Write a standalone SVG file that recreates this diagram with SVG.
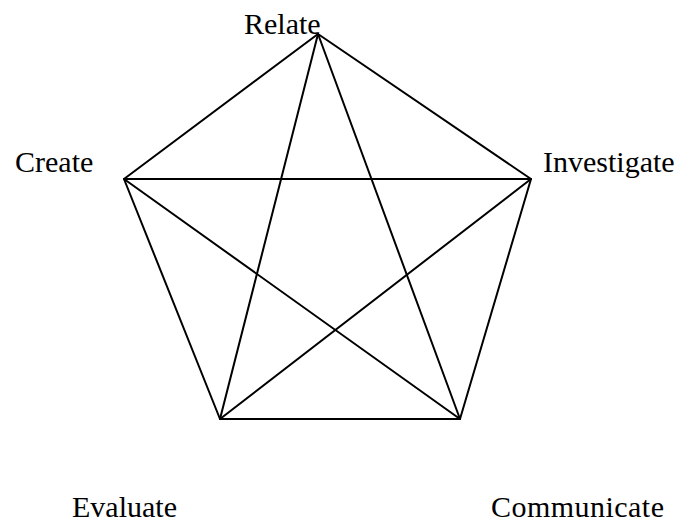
<svg xmlns="http://www.w3.org/2000/svg" width="683" height="522" viewBox="0 0 683 522">
<style>
.lbl{font-family:"Liberation Serif","Times New Roman",serif;font-size:30px;fill:#000}
.ln{stroke:#000;stroke-width:2;fill:none;stroke-linecap:round;stroke-linejoin:round}
</style>
<rect width="683" height="522" fill="#fff"/>
<g id="connectors" class="ln">
<path d="M318,34 L124,179 L220,419 L460,419 L531,179 Z"/>
<path d="M318,34 L220,419"/>
<path d="M318,34 L460,419"/>
<path d="M124,179 L531,179"/>
<path d="M124,179 L460,419"/>
<path d="M531,179 L220,419"/>
</g>
<g id="relate"><text class="lbl" x="244" y="34">Relate</text></g>
<g id="create"><text class="lbl" x="15" y="172">Create</text></g>
<g id="investigate"><text class="lbl" x="543" y="172">Investigate</text></g>
<g id="evaluate"><text class="lbl" x="72" y="517">Evaluate</text></g>
<g id="communicate"><text class="lbl" x="491" y="517" textLength="173">Communicate</text></g>
</svg>
